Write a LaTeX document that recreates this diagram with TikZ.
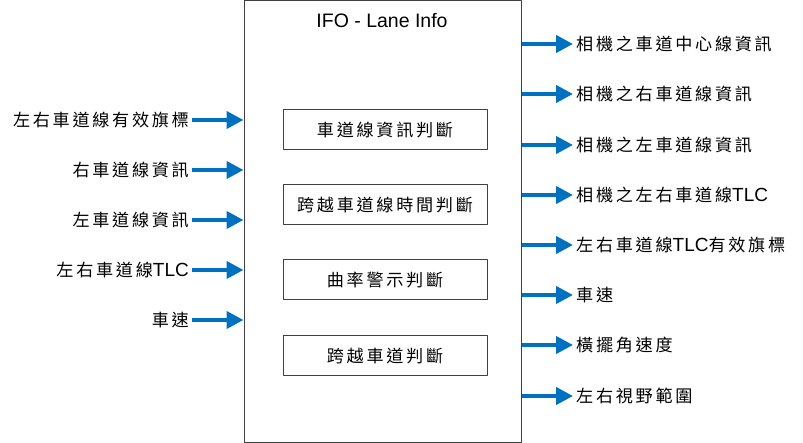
\documentclass[tikz,border=0pt]{standalone}
\usepackage{fontspec}
\setmainfont{Liberation Sans}
\newfontfamily\cjkfont[Scale=0.9, LetterSpace=16]{Noto Sans CJK TC}
\usetikzlibrary{arrows.meta, positioning}
\definecolor{arrowblue}{HTML}{0070C0}
\definecolor{boxgray}{HTML}{404040}
\newcommand{\zh}[1]{{\cjkfont #1}}

\tikzset{
    sig/.style={inner sep=0pt, inner xsep=3pt, font=\fontsize{19}{22}\selectfont},
    flow/.style={draw=arrowblue, line width=4pt, -{Triangle[length=17pt, width=17pt]}},
    stagebox/.style={draw=boxgray, line width=1pt, minimum width=204pt, minimum height=40pt},
}

\begin{document}
\begin{tikzpicture}[x=1pt, y=-1pt, line join=round]
    \useasboundingbox (0,0) rectangle (803,443);

    % the block itself
    \node[draw=boxgray, line width=1pt, minimum width=277pt, minimum height=441pt, inner sep=0pt] (ifo) at (382.5,221.5) {};
    \node[sig, font=\fontsize{19.5}{22}\selectfont] (title) at (382,21) {IFO - Lane Info};

    % judgement steps
    \foreach \name/\y/\txt in {lanejdg/130/車道線資訊判斷, tlcjdg/205/跨越車道線時間判斷, curvejdg/280/曲率警示判斷, crossjdg/356/跨越車道判斷} {
            \node[sig, stagebox] (\name) at (385,\y) {\zh{\txt}};
        }

    % inputs
    \foreach \name/\y/\txt in {inflag/120/\zh{左右車道線有效旗標}, inright/170/\zh{右車道線資訊}, inleft/220/\zh{左車道線資訊}, intlc/270/\zh{左右車道線}TLC, inspeed/320/\zh{車速}} {
            \node[sig, anchor=east] (\name) at (192,\y) {\txt};
            \draw[flow] (\name) -- (\name -| ifo.west);
        }

    % outputs
    \foreach \name/\y/\txt in {outcenter/44/\zh{相機之車道中心線資訊}, outright/94/\zh{相機之右車道線資訊}, outleft/145/\zh{相機之左車道線資訊}, outtlc/195/\zh{相機之左右車道線}TLC, outflag/245/\zh{左右車道線}TLC\zh{有效旗標}, outspeed/295/\zh{車速}, outyaw/345/\zh{橫擺角速度}, outview/396/\zh{左右視野範圍}} {
            \node[sig, anchor=west] (\name) at (573,\y) {\txt};
            \draw[flow] (\name -| ifo.east) -- (\name.west);
        }
\end{tikzpicture}
\end{document}
